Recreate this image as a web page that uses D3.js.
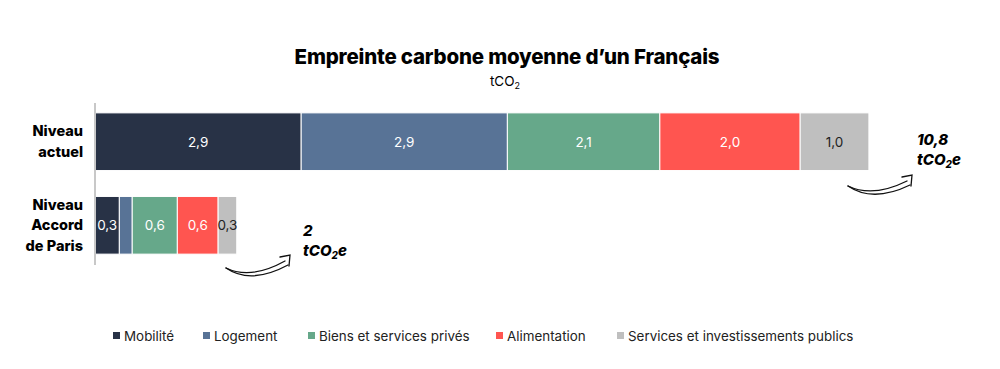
<!DOCTYPE html>
<html>
<head>
<meta charset="utf-8">
<style>
  body { margin: 0; background: #fff; }
  svg { display: block; font-family: Inter, "Open Sans", sans-serif; }
</style>
<script src="https://cdnjs.cloudflare.com/ajax/libs/d3/7.8.5/d3.min.js"></script>
</head>
<body>
<svg id="chart" width="1000" height="369"></svg>
<script>
// data
const categories = ["Niveau actuel", "Niveau Accord de Paris"];
const categoryLines = [["Niveau", "actuel"], ["Niveau", "Accord", "de Paris"]];
const series = ["Mobilité", "Logement", "Biens et services privés", "Alimentation", "Services et investissements publics"];
const actuel = [2.88, 2.88, 2.13, 1.96, 0.96];
const accordParis = [0.34, 0.18, 0.63, 0.57, 0.26];
const totals = ["10,8", "2"];
const colors = ["#283246", "#587396", "#66a88a", "#ff5550", "#bfbfbf"];

const svg = d3.select("#chart");

const rows = categories.map((c, i) => {
  const vals = i === 0 ? actuel : accordParis;
  const r = { category: c };
  series.forEach((s, j) => r[s] = vals[j]);
  return r;
});

const stack = d3.stack().keys(series)(rows);

const x = d3.scaleLinear().domain([0, 11]).range([95, 882.5]);
const y = d3.scaleBand().domain(categories).range([99.5, 267.5])
  .paddingInner(0.31).paddingOuter(0.16);

// title
svg.append("text").attr("x", 507).attr("y", 64).attr("text-anchor", "middle")
  .style("font-size", "20.5px").style("font-weight", 800).style("letter-spacing", "-0.2px")
  .text("Empreinte carbone moyenne d’un Français");
const sub = svg.append("text").attr("x", 505).attr("y", 86).attr("text-anchor", "middle")
  .style("font-size", "13.5px");
sub.append("tspan").text("tCO");
sub.append("tspan").attr("dy", 3).style("font-size", "9px").text("2");

// bars
const layer = svg.selectAll("g.layer").data(stack).enter().append("g")
  .attr("class", "layer").attr("fill", (d, i) => colors[i]);

layer.selectAll("rect").data(d => d).enter().append("rect")
  .attr("x", d => x(d[0]))
  .attr("y", d => y(d.data.category))
  .attr("width", d => x(d[1]) - x(d[0]))
  .attr("height", y.bandwidth())
  .attr("stroke", "#fff").attr("stroke-width", 1);

const fmt = v => d3.format(".1f")(v).replace(".", ",");
layer.each(function(s, si) {
  d3.select(this).selectAll("text").data(s.filter(d => x(d[1]) - x(d[0]) > 15)).enter().append("text")
    .attr("x", d => (x(d[0]) + x(d[1])) / 2)
    .attr("y", d => y(d.data.category) + y.bandwidth() / 2 + 5)
    .attr("text-anchor", "middle")
    .attr("fill", si === 4 ? "#222" : "#fff")
    .style("font-size", "13.5px")
    .text(d => fmt(d[1] - d[0]));
});

// axis line
svg.append("line").attr("x1", 95).attr("x2", 95).attr("y1", 103).attr("y2", 265)
  .attr("stroke", "#c8c8c8").attr("stroke-width", 2);

// category labels
categories.forEach((c, i) => {
  const lines = categoryLines[i];
  const cy = y(c) + y.bandwidth() / 2;
  const t = svg.append("text").attr("text-anchor", "end")
    .style("font-size", "14.5px").style("font-weight", 800);
  lines.forEach((l, k) => {
    t.append("tspan").attr("x", 83)
      .attr("y", cy + 5 + (k - (lines.length - 1) / 2) * 20.5).text(l);
  });
});

// totals with arrows
function arrow(x0, y0, x1, y1) {
  const g = svg.append("g").attr("fill", "none").attr("stroke", "#111").attr("stroke-linecap", "round");
  const mx = x0 + (x1 - x0) * 0.4;
  g.append("path").attr("stroke-width", 1.3)
    .attr("d", `M${x0},${y0} Q${mx},${y0 + 12} ${x1 - 3},${y1 + 3}`);
  g.append("path").attr("stroke-width", 1.3)
    .attr("d", `M${x0},${y0} Q${mx},${y0 + 17} ${x1},${y1 + 7}`);
  g.append("path").attr("stroke-width", 1.3)
    .attr("d", `M${x1 - 8},${y1 - 1} L${x1 + 2},${y1 - 3} L${x1 + 1},${y1 + 8}`);
}

const totalPos = [
  { ax: 848, ay: 186, bx: 910, by: 178, tx: 917, ty: 145 },
  { ax: 226, ay: 268, bx: 288, by: 258, tx: 303, ty: 236 }
];
totals.forEach((t, i) => {
  const p = totalPos[i];
  arrow(p.ax, p.ay, p.bx, p.by);
  const txt = svg.append("text").style("font-size", "15px").style("font-weight", 800)
    .style("font-style", "italic");
  txt.append("tspan").attr("x", p.tx).attr("y", p.ty).text(t);
  const l2 = svg.append("text").attr("x", p.tx).attr("y", p.ty + 20)
    .style("font-size", "15px").style("font-weight", 800).style("font-style", "italic");
  l2.append("tspan").text("tCO");
  l2.append("tspan").attr("dy", 3).style("font-size", "10px").text("2");
  l2.append("tspan").attr("dy", -3).text("e");
});

// legend
const legendX = [113, 203, 308, 496, 617];
const legend = svg.append("g");
series.forEach((s, i) => {
  legend.append("rect").attr("x", legendX[i]).attr("y", 332).attr("width", 7).attr("height", 7)
    .attr("fill", colors[i]);
  legend.append("text").attr("x", legendX[i] + 11).attr("y", 340.5)
    .style("font-size", "13.4px").attr("fill", "#222").text(s);
});
</script>
</body>
</html>
